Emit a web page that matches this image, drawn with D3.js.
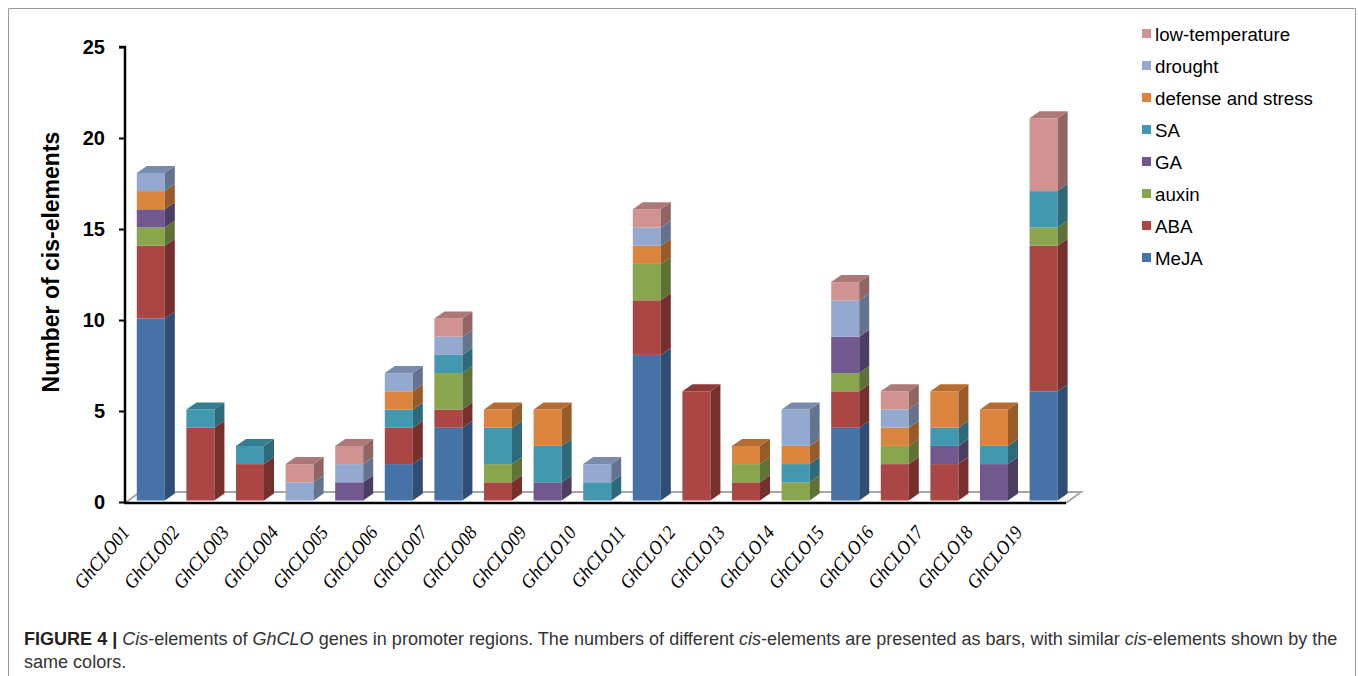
<!DOCTYPE html>
<html>
<head>
<meta charset="utf-8">
<script src="https://cdn.jsdelivr.net/npm/d3@7"></script>
<style>
  html, body { margin: 0; padding: 0; background: #fff; }
  svg { display: block; }
</style>
</head>
<body>
<svg id="chart" width="1358" height="676"></svg>
<script>
// Genes on the x axis
const genes = ["GhCLO01","GhCLO02","GhCLO03","GhCLO04","GhCLO05","GhCLO06","GhCLO07",
  "GhCLO08","GhCLO09","GhCLO10","GhCLO11","GhCLO12","GhCLO13","GhCLO14","GhCLO15",
  "GhCLO16","GhCLO17","GhCLO18","GhCLO19"];

// Stack order, bottom to top
const elementTypes = ["MeJA","ABA","auxin","GA","SA","defense and stress","drought","low-temperature"];

// Counts of each cis-element type per gene (same order as genes)
const MeJA            = [10,0,0,0,0,2,4,0,0,0,8,0,0,0,4,0,0,0,6];
const ABA             = [4,4,2,0,0,2,1,1,0,0,3,6,1,0,2,2,2,0,8];
const auxin           = [1,0,0,0,0,0,2,1,0,0,2,0,1,1,1,1,0,0,1];
const GA              = [1,0,0,0,1,0,0,0,1,0,0,0,0,0,2,0,1,2,0];
const SA              = [0,1,1,0,0,1,1,2,2,1,0,0,0,1,0,0,1,1,2];
const defenseStress   = [1,0,0,0,0,1,0,1,2,0,1,0,1,1,0,1,2,2,0];
const drought         = [1,0,0,1,1,1,1,0,0,1,1,0,0,2,2,1,0,0,0];
const lowTemperature  = [0,0,0,1,1,0,1,0,0,0,1,0,0,0,1,1,0,0,4];

const yTicks = [0,5,10,15,20,25];

const seriesValues = [MeJA, ABA, auxin, GA, SA, defenseStress, drought, lowTemperature];
const colors = ["#4572A7","#AA4643","#89A54E","#71588F","#4198AF","#DB843D","#93A9CF","#D19392"];

const rows = genes.map((g, i) => {
  const r = { gene: g };
  elementTypes.forEach((t, k) => { r[t] = seriesValues[k][i]; });
  return r;
});

const svg = d3.select("#chart");

// outer frame
svg.append("path")
  .attr("d", "M8.5,676 V8.5 H1355.5 V676")
  .attr("fill", "none").attr("stroke", "#9a9a9a").attr("stroke-width", 1);

const x = d3.scaleBand().domain(genes).range([126, 1068.4]);
const y = d3.scaleLinear().domain([0, 25]).range([502, 47]);

const barW = x.step() * 0.565;
const depthX = 10, depthY = -7;
const lift = -1.5;

// floor of the 3D plot
const floorDX = 15, floorDY = -11;
const x0 = 125, x1 = 1066;
svg.append("path")
  .attr("d", `M${x0},${y(0)+1} L${x0+floorDX},${y(0)+1+floorDY} L${x1+floorDX},${y(0)+1+floorDY} L${x1},${y(0)+1}`)
  .attr("fill", "none").attr("stroke", "#a6a6a6").attr("stroke-width", 2);

const stack = d3.stack().keys(elementTypes)(rows);

const shade = (c, k) => d3.color(c).darker(k).formatHex();

const g = svg.append("g");
genes.forEach((gene, i) => {
  const cx = x(gene) + x.bandwidth() / 2;
  const left = cx - barW / 2, right = cx + barW / 2;
  let topSeg = null;
  stack.forEach((layer, k) => {
    const d = layer[i];
    if (d[1] - d[0] <= 0) return;
    const yb = y(d[0]) + lift, yt = y(d[1]) + lift;
    g.append("rect")
      .attr("x", left).attr("y", yt).attr("width", barW).attr("height", yb - yt)
      .attr("fill", colors[k]);
    g.append("path")
      .attr("d", `M${right},${yt} L${right+depthX},${yt+depthY} L${right+depthX},${yb+depthY} L${right},${yb} Z`)
      .attr("fill", shade(colors[k], 1.05));
    topSeg = { yt, k };
  });
  if (topSeg) {
    const { yt, k } = topSeg;
    g.append("path")
      .attr("d", `M${left},${yt} L${right},${yt} L${right+depthX},${yt+depthY} L${left+depthX},${yt+depthY} Z`)
      .attr("fill", shade(colors[k], 0.55));
  }
});

// x axis line
svg.append("line")
  .attr("x1", 124).attr("x2", x1).attr("y1", y(0) + 1).attr("y2", y(0) + 1)
  .attr("stroke", "#000").attr("stroke-width", 2.5);

// y axis
const yAxis = d3.axisLeft(y).tickValues(yTicks).tickSize(6).tickPadding(14);
const yg = svg.append("g").attr("transform", "translate(125,0)").call(yAxis);
yg.select(".domain").attr("stroke", "#000").attr("stroke-width", 2.5)
  .attr("d", `M-6,${y(25)}H0V${y(0)+1}`);
yg.selectAll(".tick line").attr("stroke", "#000").attr("stroke-width", 2);
yg.selectAll(".tick text")
  .attr("font-family", "Liberation Sans, Arial, sans-serif")
  .attr("font-weight", "bold").attr("font-size", 20).attr("fill", "#000");

svg.append("text")
  .attr("transform", `translate(59,262) rotate(-90)`)
  .attr("text-anchor", "middle")
  .attr("font-family", "Liberation Sans, Arial, sans-serif")
  .attr("font-weight", "bold").attr("font-size", 23)
  .text("Number of cis-elements");

// gene labels in slanted italic serif
genes.forEach(gene => {
  const cx = x(gene) + x.bandwidth() / 2;
  svg.append("text")
    .attr("transform", `translate(${cx - 20},${533}) rotate(-50) scale(0.92,1)`)
    .attr("text-anchor", "end")
    .attr("font-family", "Liberation Serif, Times New Roman, serif")
    .attr("font-style", "italic").attr("font-size", 19.5)
    .text(gene);
});

// legend, top entry is last stacked series
const legendTypes = elementTypes.slice().reverse();
const lg = svg.append("g");
legendTypes.forEach((t, j) => {
  const k = elementTypes.indexOf(t);
  const cy = 34 + j * 32;
  lg.append("rect").attr("x", 1142).attr("y", cy - 5).attr("width", 9).attr("height", 9)
    .attr("fill", colors[k]);
  lg.append("text").attr("x", 1155).attr("y", cy + 6.5)
    .attr("font-family", "Liberation Sans, Arial, sans-serif")
    .attr("font-size", 18.7).attr("fill", "#000")
    .text(t);
});

// figure caption
const capParts = [
  { t: "FIGURE 4 | ", w: "bold" },
  { t: "Cis", s: "italic" },
  { t: "-elements of " },
  { t: "GhCLO", s: "italic" },
  { t: " genes in promoter regions. The numbers of different " },
  { t: "cis", s: "italic" },
  { t: "-elements are presented as bars, with similar " },
  { t: "cis", s: "italic" },
  { t: "-elements shown by the" }
];
const cap1 = svg.append("text").attr("x", 24).attr("y", 645)
  .attr("font-family", "Liberation Sans, Arial, sans-serif")
  .attr("font-size", 16).attr("fill", "#333");
capParts.forEach(p => {
  cap1.append("tspan").attr("font-weight", p.w || null).attr("font-style", p.s || null)
    .attr("fill", p.w ? "#222" : null).text(p.t);
});
const capW = cap1.node().getComputedTextLength();
const capSize = 16 * 1314 / capW;
cap1.attr("font-size", capSize);
svg.append("text").attr("x", 24).attr("y", 668)
  .attr("font-family", "Liberation Sans, Arial, sans-serif")
  .attr("font-size", capSize).attr("fill", "#333")
  .text("same colors.");
</script>
</body>
</html>
